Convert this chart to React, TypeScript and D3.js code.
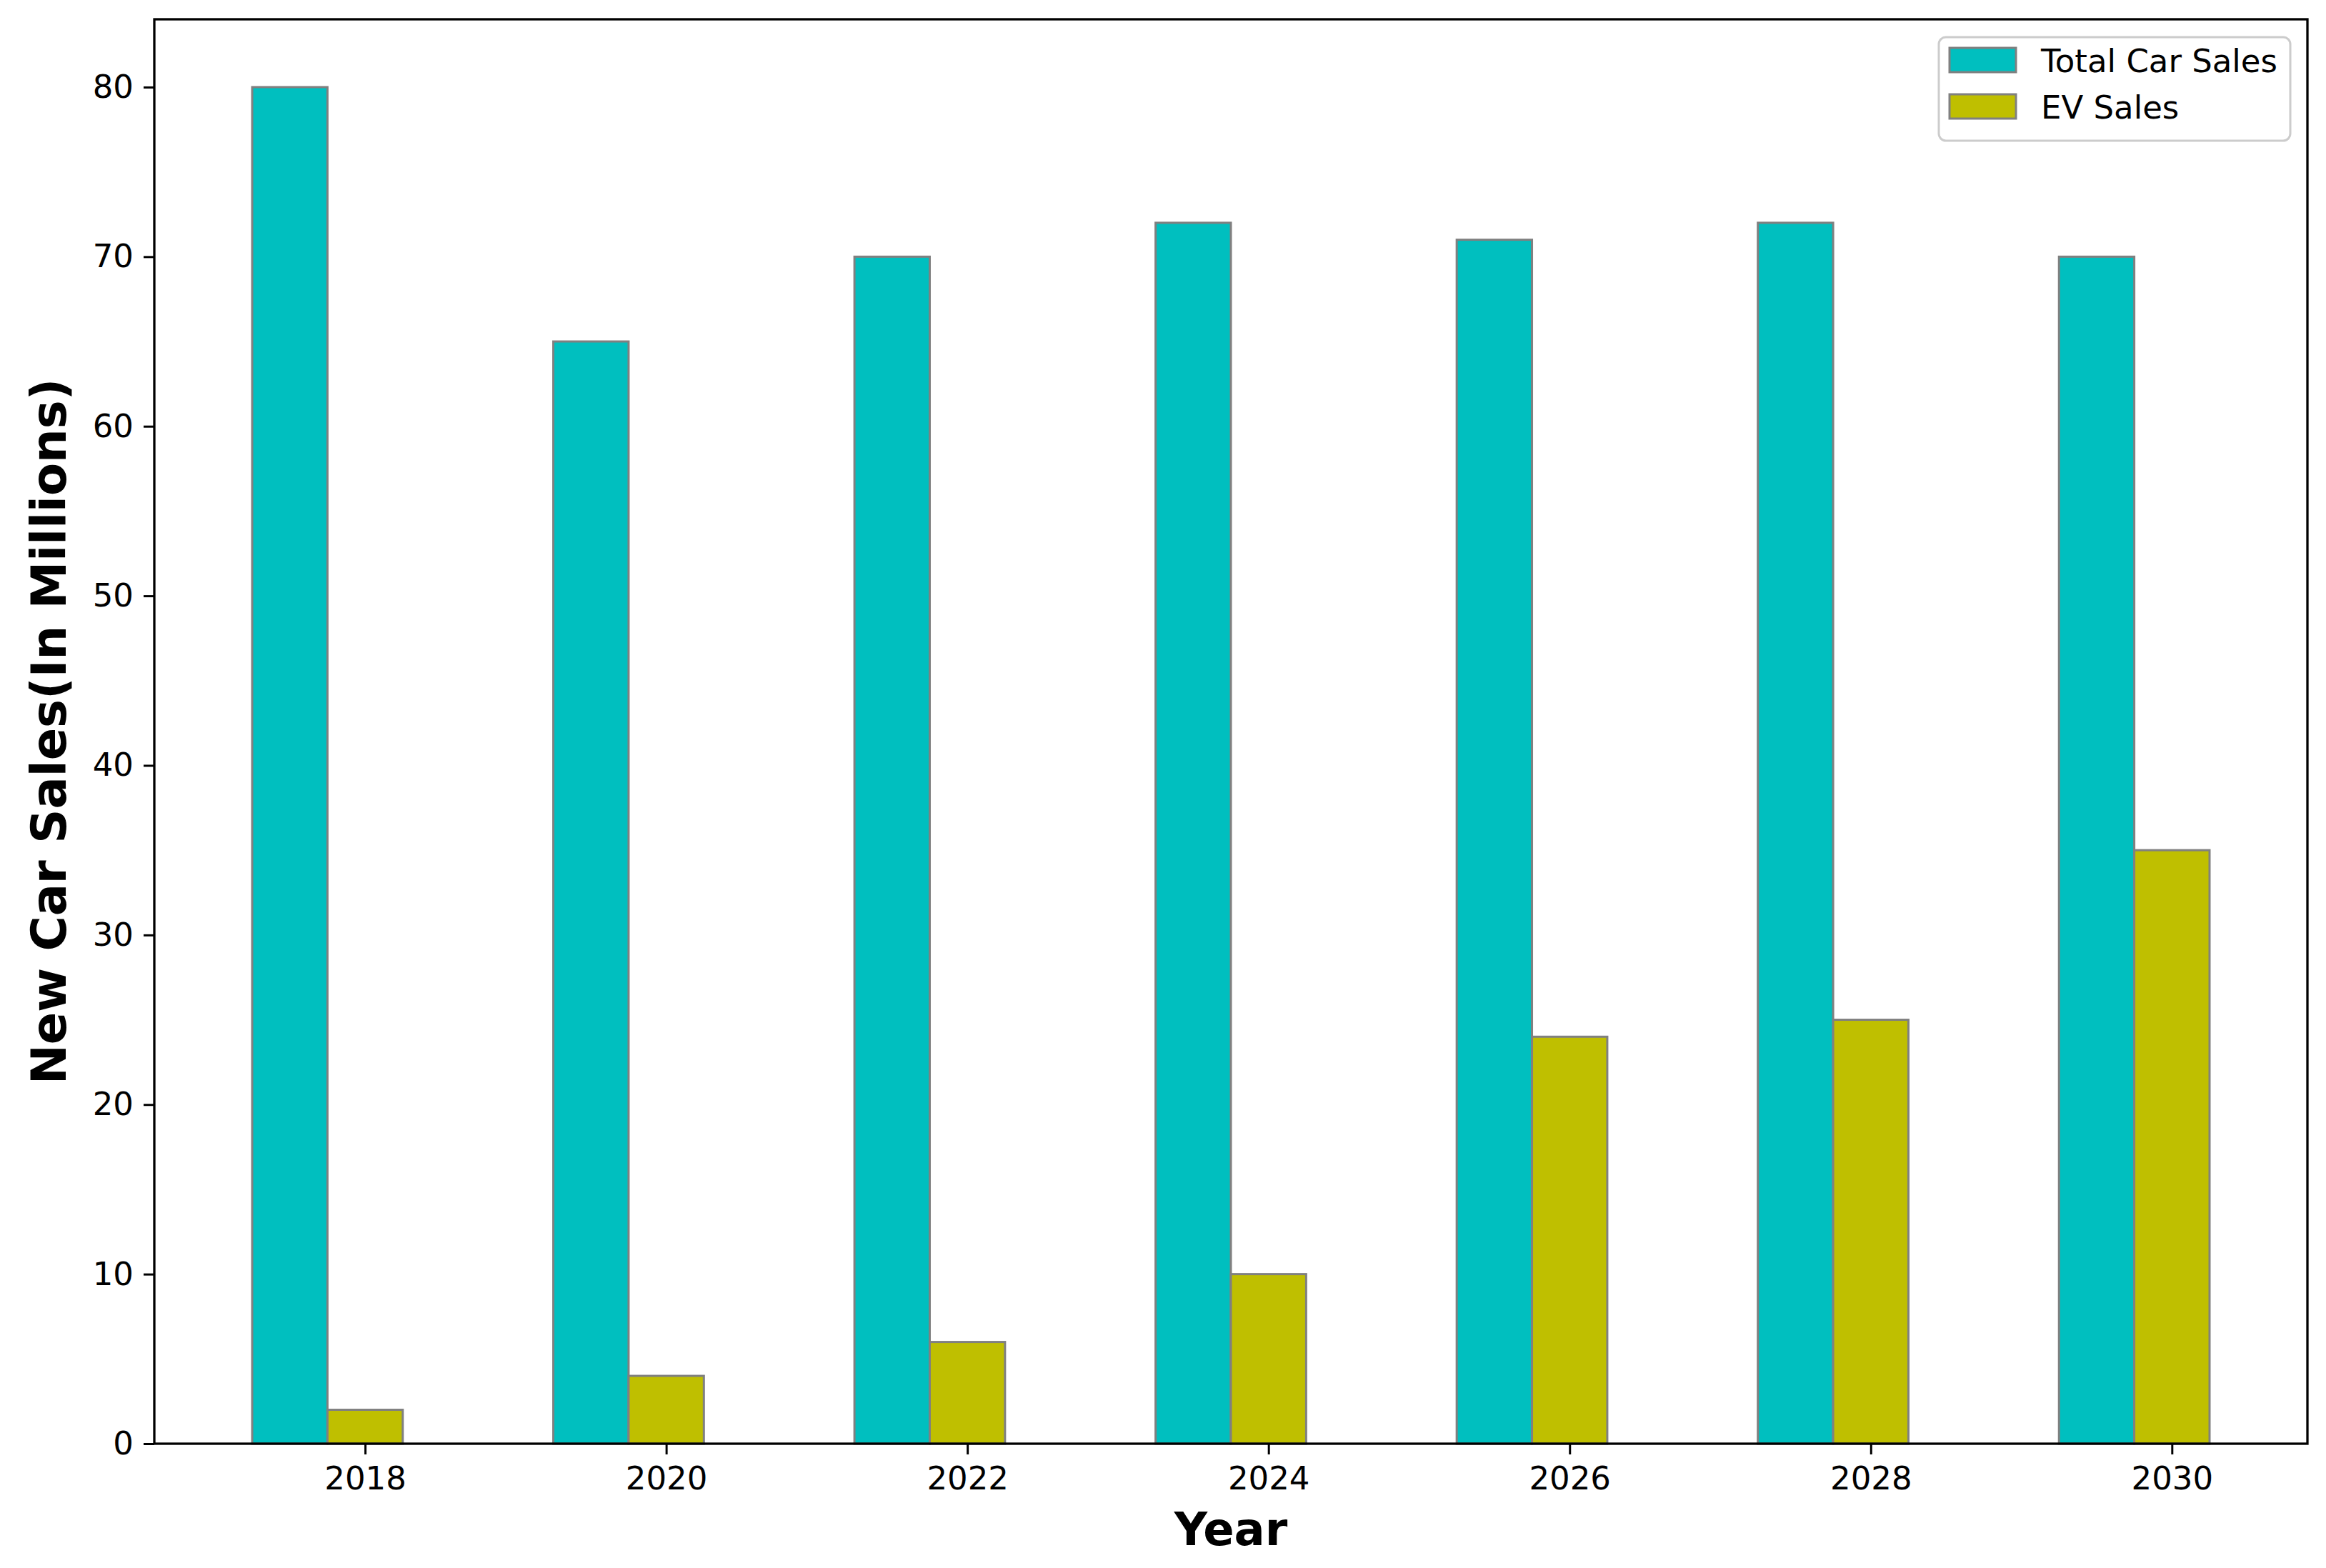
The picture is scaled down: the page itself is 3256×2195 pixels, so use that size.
// Grouped bar chart: total car sales vs EV sales, drawn with D3

import React, { useEffect, useRef } from 'react'
import * as d3 from 'd3'

const years = [2018, 2020, 2022, 2024, 2026, 2028, 2030]
const totalSales = [80, 65, 70, 72, 71, 72, 70]
const evSales = [2, 4, 6, 10, 24, 25, 35]
const yTicks = [0, 10, 20, 30, 40, 50, 60, 70, 80]
const seriesNames = ['Total Car Sales', 'EV Sales']

const W = 3256
const H = 2195
const margin = { left: 216, right: 26, top: 27, bottom: 174 }
const barWidth = 0.25
const font = '"DejaVu Sans", sans-serif'
const colors = ['#00bfbf', '#bfbf00']

const draw = (el: SVGSVGElement) => {
  const svg = d3.select(el)
  svg.selectAll('*').remove()

  const x = d3
    .scaleLinear()
    .domain([-0.45, years.length - 1 + 0.7])
    .range([margin.left, W - margin.right])
  const y = d3
    .scaleLinear()
    .domain([0, 84])
    .range([H - margin.bottom, margin.top])

  svg.append('rect').attr('width', W).attr('height', H).attr('fill', 'white')

  // Bars
  const series = [totalSales, evSales]
  series.forEach((vals, s) => {
    svg
      .append('g')
      .selectAll('rect')
      .data(vals)
      .join('rect')
      .attr('x', (_, i) => x(i + s * barWidth - barWidth / 2))
      .attr('width', x(barWidth) - x(0))
      .attr('y', d => y(d))
      .attr('height', d => y(0) - y(d))
      .attr('fill', colors[s])
      .attr('stroke', 'grey')
      .attr('stroke-width', 3)
  })

  // Axes
  const yAxis = svg
    .append('g')
    .attr('transform', `translate(${margin.left}, 0)`)
    .call(
      d3
        .axisLeft(y)
        .tickValues(yTicks)
        .tickSize(15)
        .tickPadding(14)
        .tickSizeOuter(0)
        .tickFormat(d3.format('d'))
    )
  const xAxis = svg
    .append('g')
    .attr('transform', `translate(0, ${H - margin.bottom})`)
    .call(
      d3
        .axisBottom(x)
        .tickValues(years.map((_, i) => i + barWidth))
        .tickSize(15)
        .tickPadding(17)
        .tickSizeOuter(0)
        .tickFormat((_, i) => String(years[i]))
    )
  ;[xAxis, yAxis].forEach(a => {
    a.select('.domain').remove()
    a.selectAll('line').attr('stroke', 'black').attr('stroke-width', 3)
    a.selectAll('text')
      .attr('fill', 'black')
      .style('font-family', font)
      .style('font-size', '45px')
  })

  // Frame
  svg
    .append('rect')
    .attr('x', margin.left)
    .attr('y', margin.top)
    .attr('width', W - margin.left - margin.right)
    .attr('height', H - margin.top - margin.bottom)
    .attr('fill', 'none')
    .attr('stroke', 'black')
    .attr('stroke-width', 3.3)

  // Axis labels
  svg
    .append('text')
    .attr('x', (margin.left + W - margin.right) / 2)
    .attr('y', 2163)
    .attr('text-anchor', 'middle')
    .style('font-family', font)
    .style('font-weight', 'bold')
    .style('font-size', '64px')
    .text('Year')
  svg
    .append('text')
    .attr('transform', `translate(92, ${(margin.top + H - margin.bottom) / 2}) rotate(-90)`)
    .attr('text-anchor', 'middle')
    .style('font-family', font)
    .style('font-weight', 'bold')
    .style('font-size', '67px')
    .text('New Car Sales(In Millions)')

  // Legend
  const legend = svg.append('g')
  legend
    .append('rect')
    .attr('x', 2714)
    .attr('y', 52)
    .attr('width', 492)
    .attr('height', 145)
    .attr('rx', 10)
    .attr('fill', 'white')
    .attr('fill-opacity', 0.8)
    .attr('stroke', '#cccccc')
    .attr('stroke-width', 3)
  seriesNames.forEach((name, i) => {
    legend
      .append('rect')
      .attr('x', 2729)
      .attr('y', 67 + i * 65)
      .attr('width', 93)
      .attr('height', 34)
      .attr('fill', colors[i])
      .attr('stroke', 'grey')
      .attr('stroke-width', 3)
    legend
      .append('text')
      .attr('x', 2857)
      .attr('y', 85 + i * 65)
      .attr('dy', '0.35em')
      .style('font-family', font)
      .style('font-size', '45px')
      .text(name)
  })
}

export default function App() {
  const ref = useRef<SVGSVGElement>(null)
  useEffect(() => {
    if (ref.current) draw(ref.current)
  }, [])
  return (
    <svg
      ref={ref}
      width={W}
      height={H}
      style={{ position: 'absolute', left: 0, top: 0, display: 'block' }}
    />
  )
}
